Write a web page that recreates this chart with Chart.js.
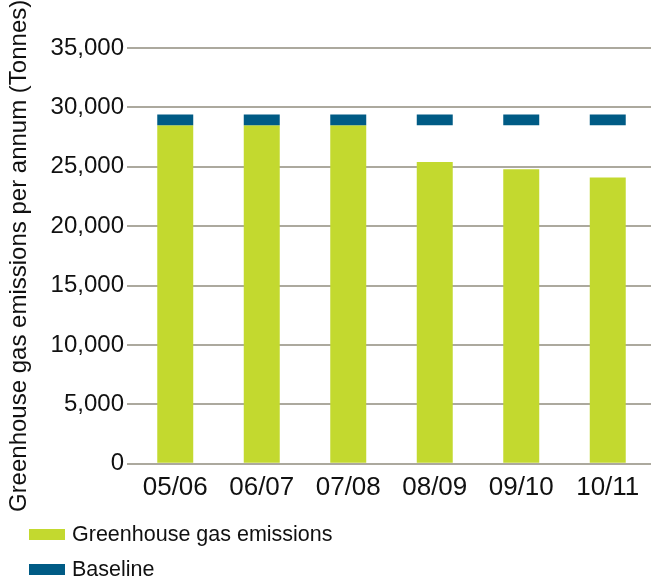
<!DOCTYPE html>
<html>
<head>
<meta charset="utf-8">
<script src="https://cdn.jsdelivr.net/npm/chart.js@4/dist/chart.umd.min.js"></script>
<style>
  html, body { margin: 0; padding: 0; background: #fff; }
  #wrap { position: relative; width: 653px; height: 581px; }
  #chart { position: absolute; left: 0; top: 0; }
  #legend { position: absolute; left: 29px; top: 517px; font-family: 'Liberation Sans', Arial, sans-serif; font-size: 21.5px; color: #111; }
  .item { display: flex; align-items: center; height: 35px; }
  .swatch { width: 36px; height: 11px; margin-right: 7px; }
</style>
</head>
<body>
<div id="wrap">
  <canvas id="chart" width="653" height="581"></canvas>
  <div id="legend"></div>
</div>
<script>
// Reporting years and emissions (tonnes CO2e)
const years     = ['05/06', '06/07', '07/08', '08/09', '09/10', '10/11'];
const emissions = [28500, 28500, 28500, 25400, 24800, 24100];
const baseLow   = [28500, 28500, 28500, 28500, 28500, 28500];
const baseHigh  = [29400, 29400, 29400, 29400, 29400, 29400];
const yTicks    = [0, 5000, 10000, 15000, 20000, 25000, 30000, 35000];

const GREEN = '#c3d92f';
const BLUE  = '#005b85';
const GRID  = '#aca99e';
const FONT  = "'Liberation Sans', Arial, sans-serif";

const chart = new Chart(document.getElementById('chart'), {
  type: 'bar',
  data: {
    labels: years,
    datasets: [
      {
        label: 'Greenhouse gas emissions',
        data: emissions,
        backgroundColor: GREEN,
        order: 1,
      },
      {
        label: 'Baseline',
        data: baseLow.map((lo, i) => [lo, baseHigh[i]]),
        backgroundColor: BLUE,
        order: 0,
      },
    ],
  },
  options: {
    responsive: false,
    animation: false,
    layout: { padding: { top: 48, right: 2, bottom: 78, left: 0 } },
    datasets: { bar: { grouped: false, categoryPercentage: 1, barPercentage: 0.416 } },
    plugins: { legend: { display: false }, tooltip: { enabled: false } },
    scales: {
      x: {
        grid: { display: false },
        border: { display: false },
        ticks: { color: '#111', font: { family: FONT, size: 26 }, padding: 0 },
      },
      y: {
        min: 0,
        max: 35000,
        afterBuildTicks: s => { s.ticks = yTicks.map(v => ({ value: v })); },
        afterFit: s => { s.width = 132; },
        grid: { color: GRID, lineWidth: 2, tickLength: 5 },
        border: { display: false },
        ticks: {
          color: '#111',
          font: { family: FONT, size: 24 },
          padding: 3,
          callback: v => v.toLocaleString('en-US'),
        },
        title: {
          display: true,
          text: 'Greenhouse gas emissions per annum (Tonnes)',
          color: '#111',
          font: { family: FONT, size: 24 },
          padding: { top: 5, bottom: 0 },
        },
      },
    },
  },
});

// Vertical legend under the chart
document.getElementById('legend').innerHTML = chart.data.datasets.map(d =>
  `<div class="item"><span class="swatch" style="background:${d.backgroundColor}"></span>${d.label}</div>`
).join('');
</script>
</body>
</html>
